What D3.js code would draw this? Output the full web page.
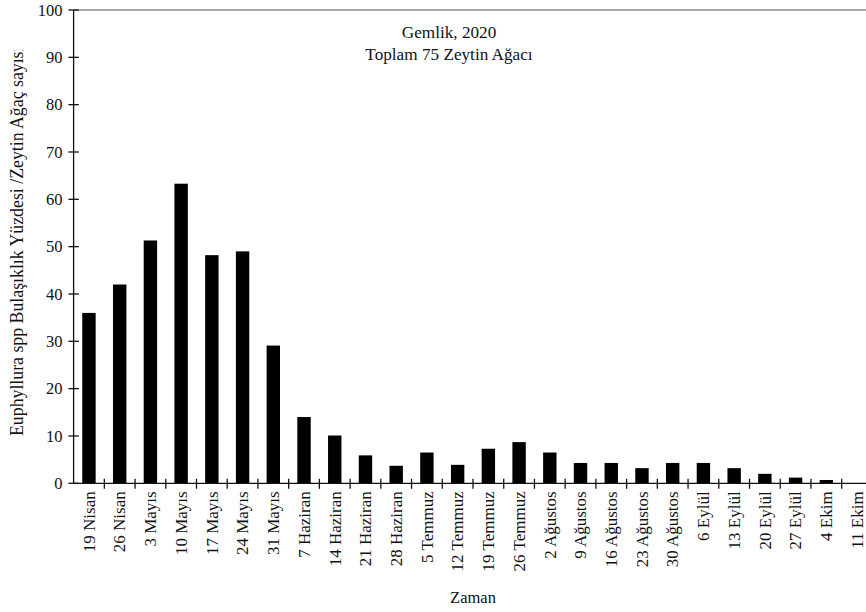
<!DOCTYPE html>
<html>
<head>
<meta charset="utf-8">
<script src="https://cdn.jsdelivr.net/npm/d3@7/dist/d3.min.js"></script>
<style>
  html, body { margin: 0; padding: 0; background: #fff; }
  svg text { font-family: "Liberation Serif", "Times New Roman", serif; fill: #111; }
</style>
</head>
<body>
<svg id="chart" width="866" height="612"></svg>
<script>
// Weekly sampling dates (Gemlik, 2020)
const dates = [
  "19 Nisan", "26 Nisan", "3 Mayıs", "10 Mayıs", "17 Mayıs", "24 Mayıs", "31 Mayıs",
  "7 Haziran", "14 Haziran", "21 Haziran", "28 Haziran", "5 Temmuz", "12 Temmuz",
  "19 Temmuz", "26 Temmuz", "2 Ağustos", "9 Ağustos", "16 Ağustos", "23 Ağustos",
  "30 Ağustos", "6 Eylül", "13 Eylül", "20 Eylül", "27 Eylül", "4 Ekim", "11 Ekim"
];
// Infestation percentage per date
const infestation = [
  36, 42, 51.3, 63.3, 48.2, 49, 29.1,
  14, 10.1, 5.9, 3.7, 6.5, 3.9,
  7.3, 8.7, 6.5, 4.3, 4.3, 3.2,
  4.3, 4.3, 3.2, 2, 1.2, 0.7, 0
];
const yTicks = [0, 10, 20, 30, 40, 50, 60, 70, 80, 90, 100];
const titleLines = ["Gemlik, 2020", "Toplam 75 Zeytin Ağacı"];
const yTitle = "Euphyllura spp Bulaşıklık Yüzdesi /Zeytin Ağaç sayısı";
const xTitle = "Zaman";

const svg = d3.select("#chart");
const plotLeft = 73.6, plotRight = 872.4, plotTop = 10, plotBottom = 483.3;

const x = d3.scaleBand()
  .domain(dates)
  .range([plotLeft, plotRight])
  .paddingInner(0.564)
  .paddingOuter(0.282);

const y = d3.scaleLinear().domain([0, 100]).range([plotBottom, plotTop]);

// plot area top border
svg.append("line")
  .attr("x1", plotLeft).attr("x2", 866)
  .attr("y1", plotTop).attr("y2", plotTop)
  .attr("stroke", "#8c8c8c").attr("stroke-width", 1.6);

// bars
svg.append("g").selectAll("rect")
  .data(dates)
  .join("rect")
  .attr("x", d => x(d))
  .attr("width", x.bandwidth())
  .attr("y", (d, i) => y(infestation[i]))
  .attr("height", (d, i) => y(0) - y(infestation[i]))
  .attr("fill", "#000");

// y axis
const yAxis = svg.append("g");
yAxis.append("line")
  .attr("x1", plotLeft).attr("x2", plotLeft)
  .attr("y1", plotTop).attr("y2", plotBottom)
  .attr("stroke", "#111").attr("stroke-width", 1.3);
yAxis.selectAll("line.tick")
  .data(yTicks)
  .join("line")
  .attr("class", "tick")
  .attr("x1", plotLeft - 5.2).attr("x2", plotLeft + 5.2)
  .attr("y1", d => y(d)).attr("y2", d => y(d))
  .attr("stroke", "#111").attr("stroke-width", 1.3);
yAxis.selectAll("text")
  .data(yTicks)
  .join("text")
  .attr("x", 62.5)
  .attr("y", d => y(d))
  .attr("dy", "0.34em")
  .attr("text-anchor", "end")
  .attr("font-size", 16.5)
  .text(d => d);

// x axis with category boundary ticks
const xAxis = svg.append("g");
xAxis.append("line")
  .attr("x1", plotLeft).attr("x2", 866)
  .attr("y1", plotBottom).attr("y2", plotBottom)
  .attr("stroke", "#111").attr("stroke-width", 1.3);
const step = x.step();
const boundaries = d3.range(1, dates.length).map(i => plotLeft + i * step);
xAxis.selectAll("line.tick")
  .data(boundaries)
  .join("line")
  .attr("class", "tick")
  .attr("x1", d => d).attr("x2", d => d)
  .attr("y1", plotBottom - 4.5).attr("y2", plotBottom + 5.5)
  .attr("stroke", "#111").attr("stroke-width", 1.3);
xAxis.selectAll("text")
  .data(dates)
  .join("text")
  .attr("transform", d => `translate(${x(d) + x.bandwidth() / 2},${plotBottom + 8}) rotate(-90)`)
  .attr("dy", "0.34em")
  .attr("text-anchor", "end")
  .attr("font-size", 17)
  .text(d => d);

// chart title inside plot
svg.append("g").selectAll("text")
  .data(titleLines)
  .join("text")
  .attr("x", 449)
  .attr("y", (d, i) => 32 + i * 22)
  .attr("dy", "0.34em")
  .attr("text-anchor", "middle")
  .attr("font-size", 17.2)
  .text(d => d);

// axis titles; the vertical one is cut off at the top of its box
svg.append("defs").append("clipPath").attr("id", "ytitle-clip")
  .append("rect").attr("x", 0).attr("y", 50).attr("width", 40).attr("height", 420);
svg.append("g")
  .attr("clip-path", "url(#ytitle-clip)")
  .append("text")
  .attr("transform", "translate(17,436) rotate(-90)")
  .attr("dy", "0.34em")
  .attr("text-anchor", "start")
  .attr("font-size", 17.8)
  .text(yTitle);

svg.append("text")
  .attr("x", (plotLeft + plotRight) / 2)
  .attr("y", 597)
  .attr("dy", "0.34em")
  .attr("text-anchor", "middle")
  .attr("font-size", 16.5)
  .text(xTitle);
</script>
</body>
</html>
